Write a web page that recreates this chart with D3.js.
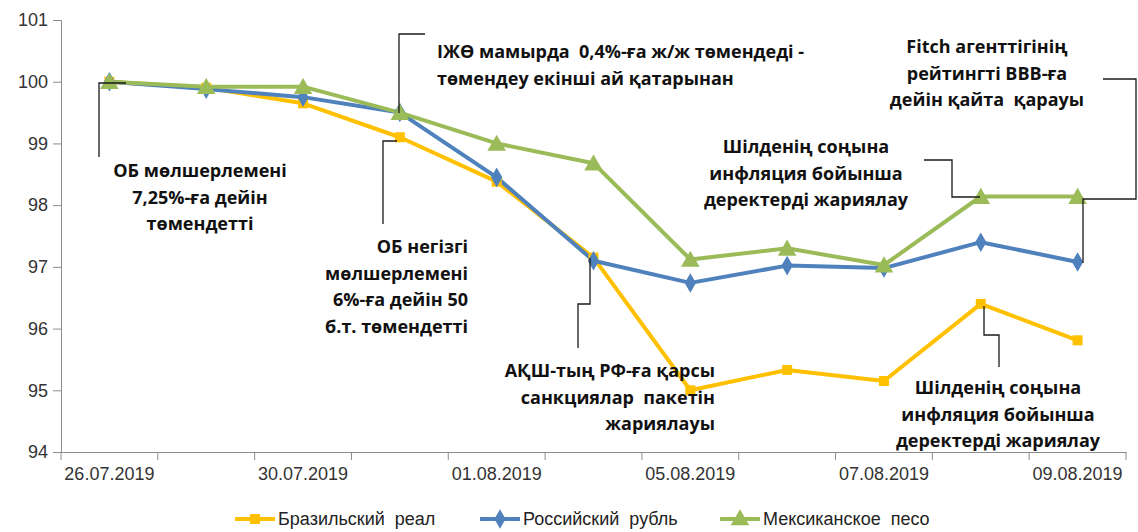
<!DOCTYPE html>
<html>
<head>
<meta charset="utf-8">
<script src="https://cdn.jsdelivr.net/npm/d3@7"></script>
<style>
  body { margin: 0; background: #fff; }
  svg { display: block; }
  .axis text { font-family: "Liberation Sans", Arial, sans-serif; font-size: 18px; fill: #333; }
  .note { font-family: "Open Sans", "Noto Sans", sans-serif; font-weight: bold; font-size: 18px; fill: #111; white-space: pre; }
  .legend text { font-family: "Liberation Sans", Arial, sans-serif; font-size: 18px; fill: #222; word-spacing: 5px; }
</style>
</head>
<body>
<div id="chart"><svg width="1138" height="532"></svg></div>
<script>
// data
var dates = ['26.07.2019', '29.07.2019', '30.07.2019', '31.07.2019', '01.08.2019', '02.08.2019',
             '05.08.2019', '06.08.2019', '07.08.2019', '08.08.2019', '09.08.2019'];
var brl = [100, 99.9, 99.65, 99.1, 98.38, 97.15, 95.0, 95.33, 95.15, 96.4, 95.81];
var rub = [100, 99.88, 99.75, 99.5, 98.45, 97.1, 96.74, 97.02, 96.98, 97.4, 97.08];
var mxn = [100, 99.92, 99.92, 99.5, 99.0, 98.68, 97.12, 97.3, 97.03, 98.14, 98.14];
var seriesNames = ['Бразильский реал', 'Российский рубль', 'Мексиканское песо'];
var yTicks = [94, 95, 96, 97, 98, 99, 100, 101];

(function() {
    var svg = d3.select('#chart svg'),
    colors = ['#FFC000', '#4F81BD', '#9BBB59'],
    symbols = [d3.symbolSquare, d3.symbolDiamond, d3.symbolTriangle],
    symSize = [100, 110, 150],
    series = [brl, rub, mxn],
    x, y, cx, plot;

    x = d3.scaleBand().domain(dates).range([61, 1126]).padding(0);
    y = d3.scaleLinear().domain([94, 101]).range([452, 20]);
    cx = function(i) { return x(dates[i]) + x.bandwidth() / 2; };

    // y axis
    svg.append('g').attr('class', 'axis')
	.attr('transform', 'translate(61,0)')
	.call(d3.axisLeft(y).tickValues(yTicks).tickSize(8).tickPadding(5).tickFormat(d3.format('d')))
	.call(function(g) {
	    g.selectAll('line, path').attr('stroke', '#8c8c8c');
	});

    // x axis, labels under every other date
    svg.append('g').attr('class', 'axis')
	.attr('transform', 'translate(0,452)')
	.call(d3.axisBottom(x).tickSize(0).tickPadding(15)
	      .tickFormat(function(d, i) { return i % 2 === 0 ? d : ''; }))
	.call(function(g) {
	    g.select('.domain').attr('stroke', '#8c8c8c');
	});
    // tick marks sit on band boundaries
    svg.append('g').selectAll('line')
	.data(dates.map(function(d) { return x(d); }).concat([x.range()[1]]))
	.join('line')
	.attr('x1', function(d) { return d; }).attr('x2', function(d) { return d; })
	.attr('y1', 452).attr('y2', 460)
	.attr('stroke', '#8c8c8c');

    // lines and markers
    plot = svg.append('g');
    var line = d3.line().x(function(d, i) { return cx(i); }).y(function(d) { return y(d); });
    series.forEach(function(s, k) {
	plot.append('path').datum(s)
	    .attr('d', line)
	    .attr('fill', 'none')
	    .attr('stroke', colors[k])
	    .attr('stroke-width', 4)
	    .attr('stroke-linejoin', 'round');
    });
    series.forEach(function(s, k) {
	plot.append('g').selectAll('path').data(s).join('path')
	    .attr('transform', function(d, i) {
		return 'translate(' + cx(i) + ',' + (y(d) + (k === 2 ? 2 : 0)) + ')';
	    })
	    .attr('d', d3.symbol().type(symbols[k]).size(symSize[k]))
	    .attr('fill', colors[k]);
    });

    // annotations: connector polylines and text blocks
    var notes = [
	{lines: ['ОБ мөлшерлемені', '7,25%-ға дейін', 'төмендетті'], x: 200, y: 177, anchor: 'middle',
	 path: [[99, 157], [99, 83], [126, 83]]},
	{lines: ['ІЖӨ мамырда  0,4%-ға ж/ж төмендеді -', 'төмендеу екінші ай қатарынан'], x: 437, y: 58, anchor: 'start',
	 path: [[399, 113], [399, 34], [425, 34]]},
	{lines: ['ОБ негізгі', 'мөлшерлемені', '6%-ға дейін 50', 'б.т. төмендетті'], x: 468, y: 253, anchor: 'end',
	 path: [[383, 224], [383, 141], [397, 141]]},
	{lines: ['АҚШ-тың РФ-ға қарсы', 'санкциялар  пакетін', 'жариялауы'], x: 715, y: 377, anchor: 'end',
	 path: [[578, 348], [578, 304], [590, 304], [590, 258]]},
	{lines: ['Шілденің соңына', 'инфляция бойынша', 'деректерді жариялау'], x: 806, y: 153, anchor: 'middle',
	 path: [[924, 160], [952, 160], [952, 197], [980, 197]]},
	{lines: ['Fitch агенттігінің', 'рейтингті BBB-ға', 'дейін қайта  қарауы'], x: 987, y: 53, anchor: 'middle',
	 path: [[1103, 79], [1136, 79], [1136, 199], [1083, 199], [1083, 263]]},
	{lines: ['Шілденің соңына', 'инфляция бойынша', 'деректерді жариялау'], x: 998, y: 394, anchor: 'middle',
	 path: [[984, 306], [984, 335], [999, 335], [999, 367]]}
    ];
    var ann = svg.append('g');
    notes.forEach(function(n) {
	ann.append('path')
	    .attr('d', d3.line()(n.path))
	    .attr('fill', 'none')
	    .attr('stroke', '#1a1a1a')
	    .attr('stroke-width', 1.3);
	var t = ann.append('text').attr('class', 'note')
	    .attr('text-anchor', n.anchor);
	n.lines.forEach(function(l, i) {
	    t.append('tspan').attr('x', n.x).attr('y', n.y + i * 26.5).text(l);
	});
    });

    // legend
    var legX = [235, 480, 720];
    var leg = svg.append('g').attr('class', 'legend');
    seriesNames.forEach(function(name, k) {
	var g = leg.append('g').attr('transform', 'translate(' + legX[k] + ',519)');
	g.append('line').attr('x1', 0).attr('x2', 40).attr('stroke', colors[k]).attr('stroke-width', 4);
	g.append('path').attr('transform', 'translate(20,' + (k === 2 ? 1 : 0) + ')')
	    .attr('d', d3.symbol().type(symbols[k]).size(symSize[k])).attr('fill', colors[k]);
	g.append('text').attr('x', 43).attr('y', 6).text(name);
    });
})();
</script>
</body>
</html>
